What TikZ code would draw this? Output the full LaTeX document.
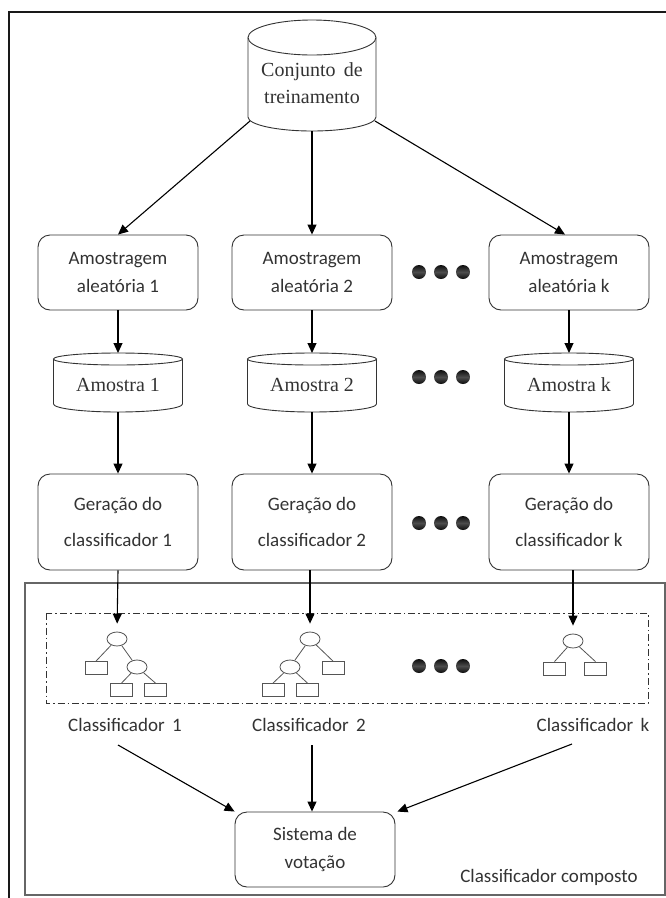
\documentclass[tikz,border=0pt]{standalone}
\usepackage{fontspec}
\setmainfont{Liberation Serif}
\newfontfamily\calib{Carlito}
\usetikzlibrary{arrows.meta,shapes.geometric}
\definecolor{ln}{HTML}{333333}
\definecolor{tr}{HTML}{555555}
\begin{document}
\begin{tikzpicture}[x=1pt,y=-1pt,
  box/.style={draw=ln, line width=0.9pt, rounded corners=12pt, minimum width=160pt,
    align=center, inner sep=0pt, font=\calib\fontsize{19}{28}\selectfont, text=ln},
  genbox/.style={box, font=\calib\fontsize{19}{36}\selectfont},
  arr/.style={draw=black, line width=1.1pt, -{Triangle[length=10pt,width=9pt]}},
  cyltext/.style={align=center, inner sep=0pt, font=\fontsize{20}{27}\selectfont, text=ln},
  cylline/.style={draw=ln, line width=0.9pt, fill=white},
  lbl/.style={inner sep=0pt, font=\calib\fontsize{19}{23}\selectfont, text=ln},
  dotball/.style={circle, minimum size=14pt, inner sep=0pt, draw=none,
    top color=black!95, bottom color=black!95, middle color=gray!60!black},
  tcirc/.style={ellipse, draw=tr, line width=0.8pt, minimum width=20pt, minimum height=14pt, inner sep=0pt},
  trect/.style={rectangle, draw=tr, line width=0.8pt, minimum width=22pt, minimum height=13pt, inner sep=0pt},
  tedge/.style={draw=tr, line width=0.8pt}
]
\useasboundingbox (0,0) rectangle (666,898);
\fill[white] (0,0) rectangle (666,898);

% outer frame
\draw[line width=2.2pt, black!90] (9,898) -- (9,12) -- (666,12);
% composite classifier frame
\draw[line width=1.3pt, gray!80!black] (25,583) rectangle (665,895);

% top cylinder
\draw[cylline] (248,37.5) -- (248,117) arc[start angle=180, end angle=360, x radius=64pt, y radius=14pt] -- (376,37.5);
\draw[cylline] (312,37.5) ellipse [x radius=64pt, y radius=17.5pt];
\node[cyltext] (cyl0) at (312,83.5) {Conjunto\, de\\treinamento};
\coordinate (c0l) at (250,121);
\coordinate (c0m) at (312,131);
\coordinate (c0r) at (375,121);

% sampling boxes
\node[box, minimum height=75pt] (a1) at (118,272.5) {Amostragem\\aleatória 1};
\node[box, minimum height=75pt] (a2) at (312,272.5) {Amostragem\\aleatória 2};
\node[box, minimum height=75pt] (a3) at (569,272.5) {Amostragem\\aleatória k};

% sample cylinders
\foreach \cx/\nm/\tx in {118/m1/Amostra 1, 312/m2/Amostra 2, 569/m3/Amostra k}{
  \draw[cylline] (\cx-64.5,359) -- (\cx-64.5,404) arc[start angle=180, end angle=360, x radius=64.5pt, y radius=8pt] -- (\cx+64.5,359);
  \draw[cylline] (\cx,359) ellipse [x radius=64.5pt, y radius=6pt];
  \node[cyltext] (\nm) at (\cx,385) {\tx};
  \coordinate (\nm t) at (\cx,353);
  \coordinate (\nm b) at (\cx,412);
}

% generation boxes
\node[genbox, minimum height=96pt] (g1) at (118,522) {Geração do\\classificador 1};
\node[genbox, minimum height=96pt] (g2) at (312,522) {Geração do\\classificador 2};
\node[genbox, minimum height=96pt] (g3) at (569,522) {Geração do\\classificador k};

% ellipsis dots
\foreach \yy/\rr in {272/p, 377/q, 523/s, 666/u}{
  \node[dotball] (\rr1) at (419,\yy) {};
  \node[dotball] (\rr2) at (441,\yy) {};
  \node[dotball] (\rr3) at (463,\yy) {};
}

% dash-dot box
\draw[ln, line width=0.9pt, dash pattern=on 7pt off 3pt on 1.5pt off 3pt] (46,613) rectangle (648,703);

% tree 1
\node[tcirc] (r1) at (117,639) {};
\node[trect] (r1l) at (96,668) {};
\node[tcirc] (r1r) at (137,667) {};
\node[trect] (r1rl) at (121.5,690) {};
\node[trect] (r1rr) at (155.5,690) {};
\draw[tedge] (r1) -- (r1l.north);
\draw[tedge] (r1) -- (r1r);
\draw[tedge] (r1r) -- (r1rl.north);
\draw[tedge] (r1r) -- (r1rr.north);

% tree 2
\node[tcirc] (r2) at (310,639) {};
\node[tcirc] (r2l) at (290,667) {};
\node[trect] (r2r) at (333,668) {};
\node[trect] (r2ll) at (273,690) {};
\node[trect] (r2lr) at (307.5,690) {};
\draw[tedge] (r2) -- (r2l);
\draw[tedge] (r2) -- (r2r.north);
\draw[tedge] (r2l) -- (r2ll.north);
\draw[tedge] (r2l) -- (r2lr.north);

% tree k
\node[tcirc] (r3) at (573,641) {};
\node[trect] (r3l) at (554.5,668.5) {};
\node[trect] (r3r) at (595.5,668.5) {};
\draw[tedge] (r3) -- (r3l.north);
\draw[tedge] (r3) -- (r3r.north);

% classifier labels
\node[lbl] (l1) at (125,725) {Classificador\, 1};
\node[lbl] (l2) at (309,725) {Classificador\, 2};
\node[lbl] (l3) at (593,725) {Classificador\, k};
\coordinate (v1) at (118,745);
\coordinate (v2) at (312,745);
\coordinate (v3) at (572,744);

% voting
\node[box, minimum height=75pt] (sv) at (315,849.5) {Sistema de\\votação};
\node[lbl] (comp) at (549,877) {Classificador composto};

% arrows
\draw[arr] (c0l) -- (a1.north);
\draw[arr] (c0m) -- (a2.north);
\draw[arr] (c0r) -- ([xshift=-4pt]a3.north);
\draw[arr] (a1.south) -- (m1t);
\draw[arr] (a2.south) -- (m2t);
\draw[arr] (a3.south) -- (m3t);
\draw[arr] (m1b) -- (g1.north);
\draw[arr] (m2b) -- (g2.north);
\draw[arr] (m3b) -- (g3.north);
\draw[arr, shorten >=8pt] (g1.south) -- (r1.north);
\draw[arr, shorten >=8pt] (g2.south -| r2) -- (r2.north);
\draw[arr, shorten >=8pt] (g3.south -| r3) -- (r3.north);
\draw[arr] (v1) -- (sv.north west);
\draw[arr] (v2) -- (v2 |- sv.north);
\draw[arr] (v3) -- ([xshift=2pt]sv.north east);
\end{tikzpicture}
\end{document}
